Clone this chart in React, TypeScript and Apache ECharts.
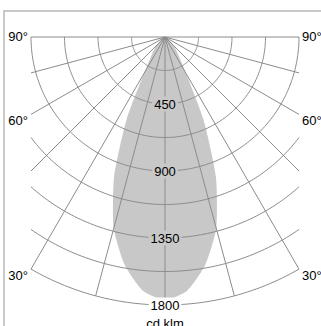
import React, { useEffect, useRef } from "react";
import * as echarts from "echarts";

// ---- data ----
const ringValues = [225, 450, 675, 900, 1125, 1350, 1575, 1800];
const ringLabels = [450, 900, 1350, 1800];
const spokeAngles = [-90, -75, -60, -45, -30, -15, 0, 15, 30, 45, 60, 75, 90];
const angleLabels = [90, 60, 30];
const intensityAngles = [0, 5, 10, 15, 20, 25, 30, 35, 40, 45, 50, 55, 60, 65, 70, 75, 80, 85, 90];
const intensityValues = [1766, 1710, 1555, 1330, 1000, 610, 280, 170, 120, 80, 50, 30, 15, 8, 3, 0, 0, 0, 0];
const unitLabel = "cd klm";
const halfWidth = 900;
const maxValue = 1800;

const FONT = '"Liberation Sans", Arial, sans-serif';
const FILL = "#c8c8c8";
const GRID = "#8c8c8c";

const rad = (d: number) => (d * Math.PI) / 180;
const polar = (r: number, deg: number) => [r * Math.sin(rad(deg)), -r * Math.cos(rad(deg))];
const spokeLen = (deg: number) => {
  const s = Math.abs(Math.sin(rad(deg)));
  return s < 1e-6 ? maxValue : Math.min(maxValue, halfWidth / s);
};

export default function App() {
  const ref = useRef<HTMLDivElement>(null);
  useEffect(() => {
    if (!ref.current) return;
    const chart = echarts.init(ref.current, undefined, { renderer: "svg" });
    const option: any = {
      animation: false,
      backgroundColor: "#ffffff",
      grid: { left: 31, top: 37, width: 268, height: 268 },
      xAxis: { type: "value", min: -halfWidth, max: halfWidth, show: false },
      yAxis: { type: "value", min: -maxValue, max: 0, show: false },
      graphic: [
        {
          type: "rect",
          shape: { x: 4, y: 11, width: 420, height: 420 },
          style: { fill: "none", stroke: "#b8b8b8", lineWidth: 1.5 },
          silent: true,
        },
      ],
      series: [
        {
          type: "custom",
          z: 1,
          data: [[0, 0]],
          renderItem: (_p: any, api: any) => {
            const pts: number[][] = [];
            for (let i = intensityAngles.length - 1; i > 0; i--) {
              pts.push(api.coord(polar(intensityValues[i], -intensityAngles[i])));
            }
            for (let i = 0; i < intensityAngles.length; i++) {
              pts.push(api.coord(polar(intensityValues[i], intensityAngles[i])));
            }
            return {
              type: "polygon",
              shape: { points: pts, smooth: 0.2 },
              style: { fill: FILL, stroke: null },
              silent: true,
            };
          },
        },
        {
          type: "custom",
          z: 2,
          data: ringValues.map((v) => [v, 0]),
          renderItem: (_p: any, api: any) => {
            const R = api.value(0);
            const tMax = R <= halfWidth ? 90 : (Math.asin(halfWidth / R) * 180) / Math.PI;
            const pts: number[][] = [];
            for (let t = -tMax; t < tMax; t += 1) pts.push(api.coord(polar(R, t)));
            pts.push(api.coord(polar(R, tMax)));
            return {
              type: "polyline",
              shape: { points: pts },
              style: { stroke: GRID, lineWidth: 1, fill: null },
              silent: true,
            };
          },
        },
        {
          type: "custom",
          z: 2,
          data: spokeAngles.map((a) => [a, 0]),
          renderItem: (_p: any, api: any) => {
            const a = api.value(0);
            const o = api.coord([0, 0]);
            const e = api.coord(polar(spokeLen(a), a));
            return {
              type: "line",
              shape: { x1: o[0], y1: o[1], x2: e[0], y2: e[1] },
              style: { stroke: GRID, lineWidth: 1 },
              silent: true,
            };
          },
        },
        {
          type: "custom",
          z: 3,
          data: ringLabels.map((v) => [v, 0]),
          renderItem: (_p: any, api: any) => {
            const R = api.value(0);
            const p = api.coord([0, -R]);
            const inside = R < intensityValues[0];
            return {
              type: "text",
              x: p[0],
              y: p[1],
              style: {
                text: String(R),
                fill: "#000",
                fontSize: 13,
                fontFamily: FONT,
                align: "center",
                verticalAlign: "middle",
                backgroundColor: inside ? FILL : "#ffffff",
                padding: [1, 2],
              },
              silent: true,
            };
          },
        },
        {
          type: "custom",
          z: 3,
          data: angleLabels.flatMap((a) => [[-a, 0], [a, 0]]),
          renderItem: (_p: any, api: any) => {
            const a = api.value(0);
            const e = api.coord(polar(spokeLen(a), a));
            const left = a < 0;
            const dy = Math.abs(a) === 90 ? -1 : 6;
            return {
              type: "text",
              x: e[0] + (left ? -3 : 3),
              y: e[1] + dy,
              style: {
                text: Math.abs(a) + "°",
                fill: "#000",
                fontSize: 13,
                fontFamily: FONT,
                align: left ? "right" : "left",
                verticalAlign: "middle",
              },
              silent: true,
            };
          },
        },
        {
          type: "custom",
          z: 3,
          data: [[0, -maxValue]],
          renderItem: (_p: any, api: any) => {
            const p = api.coord([api.value(0), api.value(1)]);
            return {
              type: "text",
              x: p[0],
              y: p[1] + 18,
              style: {
                text: unitLabel,
                fill: "#000",
                fontSize: 13,
                fontFamily: FONT,
                align: "center",
                verticalAlign: "middle",
              },
              silent: true,
            };
          },
        },
      ],
    };
    chart.setOption(option);
    return () => chart.dispose();
  }, []);
  return (
    <div
      ref={ref}
      style={{ position: "absolute", left: 0, top: 0, width: 321, height: 326 }}
    />
  );
}
